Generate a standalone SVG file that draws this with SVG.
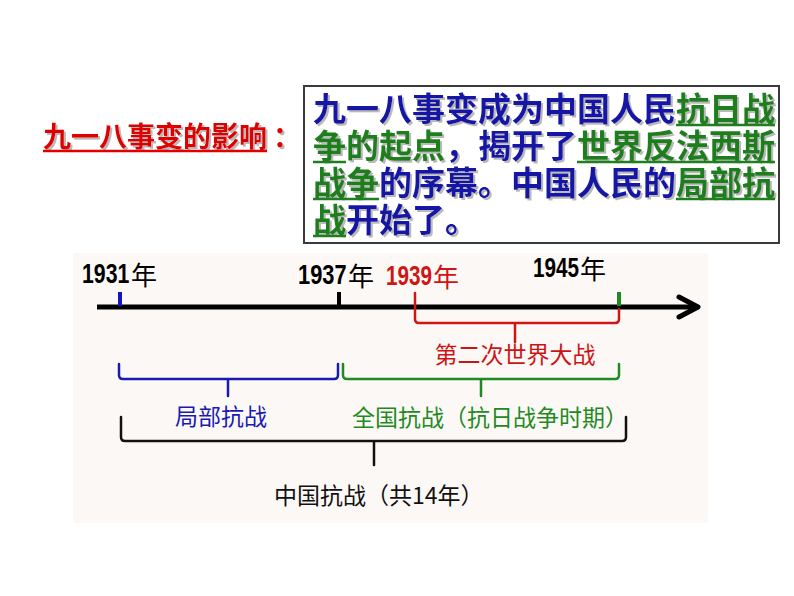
<svg xmlns="http://www.w3.org/2000/svg" width="794" height="596" viewBox="0 0 794 596">
<defs>
<style>
.cjk{font-family:"Noto Sans CJK SC","Noto Sans",sans-serif}
.box{font-family:"Liberation Sans","Noto Sans CJK SC",sans-serif;font-size:33px;font-weight:bold}
.bl{fill:#1212a6}
.gr{fill:#1f7f1f}
.num{font-family:"Liberation Sans",Arial,sans-serif;font-weight:bold;font-size:28px}
.nian{font-family:"Noto Sans CJK SC",sans-serif;font-size:26px}
.lbl{font-family:"Noto Sans CJK SC",sans-serif;font-size:23px}
.br{fill:none;stroke-width:2.5;stroke-linecap:round;stroke-linejoin:round}
.ul{stroke:#1f7f1f;stroke-width:2.5}
</style>
<filter id="sh" x="-5%" y="-20%" width="110%" height="140%">
<feDropShadow dx="2" dy="2" stdDeviation="0.6" flood-color="#a8a8a8" flood-opacity="0.8"/>
</filter>
</defs>
<rect width="794" height="596" fill="#ffffff"/>
<g id="title">
<text x="43" y="147" class="cjk" font-size="28" font-weight="bold" fill="#e00000" filter="url(#sh)">九一八事变的影响</text>
<text x="273" y="147" class="cjk" font-size="28" font-weight="bold" fill="#e00000" filter="url(#sh)">：</text>
<line x1="43" y1="151" x2="267" y2="151" stroke="#e00000" stroke-width="2.5"/>
</g>
<g id="textbox">
<rect x="304" y="86" width="475" height="157" fill="#ffffff" stroke="#3a3a3a" stroke-width="2"/>
<text class="box" filter="url(#sh)"><tspan x="313" y="121" class="bl">九一八事变成为中国人民</tspan><tspan class="gr">抗日战</tspan><tspan x="313" y="158" class="gr">争的起点</tspan><tspan class="bl">，揭开了</tspan><tspan class="gr">世界反法西斯</tspan><tspan x="313" y="195" class="gr">战争</tspan><tspan class="bl">的序幕。中国人民的</tspan><tspan class="gr">局部抗</tspan><tspan x="313" y="232" class="gr">战</tspan><tspan class="bl">开始了。</tspan></text>
<g class="ul">
<line x1="676" y1="125" x2="775" y2="125"/>
<line x1="313" y1="162" x2="346" y2="162"/>
<line x1="577" y1="162" x2="775" y2="162"/>
<line x1="313" y1="199" x2="379" y2="199"/>
<line x1="676" y1="199" x2="775" y2="199"/>
<line x1="313" y1="236" x2="346" y2="236"/>
</g>
</g>
<rect x="73" y="253" width="635" height="270" fill="#fcf8f6"/>
<g id="connectors">
<line x1="97" y1="307" x2="696" y2="307" stroke="#000" stroke-width="5"/>
<polyline points="679,297 698,307 679,317" fill="none" stroke="#000" stroke-width="5" stroke-linecap="round" stroke-linejoin="round"/>
<line x1="120" y1="292" x2="120" y2="306" stroke="#1515c0" stroke-width="4"/>
<line x1="339" y1="292" x2="339" y2="306" stroke="#000" stroke-width="4"/>
<line x1="619" y1="292" x2="619" y2="306" stroke="#1f8a1f" stroke-width="4"/>
<path class="br" stroke="#d01515" stroke-width="3" d="M415,293 L415,319 Q415,323 419,323 L615,323 Q619,323 619,319 L619,309 M515,323 L515,342"/>
<path class="br" stroke="#1a1ab0" d="M119,364 L119,375 Q119,379 123,379 L334,379 Q338,379 338,375 L338,364 M228,379 L228,396"/>
<path class="br" stroke="#1f8a1f" d="M343,364 L343,375 Q343,379 347,379 L615,379 Q619,379 619,375 L619,364 M481,379 L481,396"/>
<path class="br" stroke="#111" d="M121,417 L121,437 Q121,441 125,441 L622,441 Q626,441 626,437 L626,417 M374,441 L374,465"/>
</g>
<g id="y1931">
<text class="num" transform="translate(82,283) scale(0.76,1)" fill="#000">1931</text>
<text x="131" y="285" class="nian" fill="#000">年</text>
</g>
<g id="y1937">
<text class="num" transform="translate(298,284) scale(0.78,1)" fill="#000">1937</text>
<text x="348" y="286" class="nian" fill="#000">年</text>
</g>
<g id="y1939">
<text class="num" transform="translate(386,285) scale(0.74,1)" fill="#d01515">1939</text>
<text x="433" y="287" class="nian" fill="#d01515">年</text>
</g>
<g id="y1945">
<text class="num" transform="translate(533,277) scale(0.74,1)" fill="#000">1945</text>
<text x="580" y="279" class="nian" fill="#000">年</text>
</g>
<g id="ww2">
<text x="515" y="363" class="lbl" text-anchor="middle" fill="#cc1414">第二次世界大战</text>
</g>
<g id="local">
<text x="175" y="425" class="lbl" font-size="22.5" fill="#1a1ab0">局部抗战</text>
</g>
<g id="national">
<text x="352" y="426" class="lbl" font-size="22.7" fill="#1f8a1f">全国抗战（抗日战争时期）</text>
</g>
<g id="china">
<text x="274" y="504" class="lbl" font-size="22" fill="#111">中国抗战（共14年）</text>
</g>
</svg>
